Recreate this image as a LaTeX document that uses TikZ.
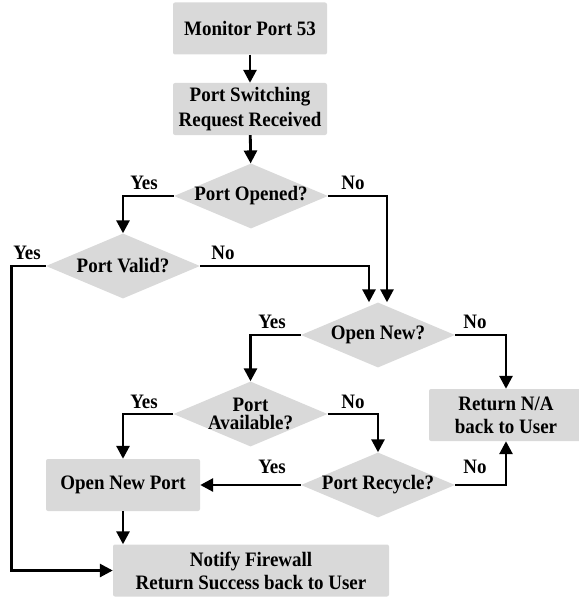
\documentclass[tikz,border=0pt]{standalone}
\usepackage{fontspec}
\setmainfont{Liberation Serif}[FakeStretch=0.925]
\usetikzlibrary{shapes.geometric,arrows.meta}
\definecolor{boxgray}{RGB}{217,217,217}

\tikzset{
    box/.style={rectangle, fill=boxgray, rounded corners=2pt, minimum width=154pt, minimum height=52pt, inner sep=0pt, align=center, font=\fontsize{20.5}{23}\selectfont\bfseries},
    decision/.style={diamond, fill=boxgray, minimum width=154pt, minimum height=65pt, inner sep=0pt},
    dtext/.style={align=center, inner sep=0pt, font=\fontsize{20.5}{18.5}\selectfont\bfseries},
    ans/.style={inner sep=0pt, font=\fontsize{20.5}{23}\selectfont\bfseries},
    flow/.style={line width=2.8pt, -{Triangle[length=13pt,width=13pt]}}
}

\begin{document}
\begin{tikzpicture}[x=1pt,y=-1pt]
        \useasboundingbox (0,0) rectangle (578,599);

        \node (mon) [box] at (250,28.5) {Monitor Port 53};
        \node (req) [box] at (250,109) {Port Switching\\[2pt]Request Received};
        \node (opened) [decision, label={[dtext]center:Port Opened?}] at (251,196) {};
        \node (valid) [decision, label={[dtext]center:Port Valid?}] at (123,266) {};
        \node (opennew) [decision, label={[dtext]center:Open New?}] at (378,335) {};
        \node (avail) [decision, label={[dtext]center:{Port\\Available?}}] at (250.5,414) {};
        \node (recycle) [decision, label={[dtext]center:Port Recycle?}] at (378,485) {};
        \node (retna) [box] at (506,415) {Return N/A\\back to User};
        \node (newport) [box] at (123,485) {Open New Port};
        \node (notify) [box, minimum width=276pt] at (251,570.5) {Notify Firewall\\Return Success back to User};

        \node (yesopened) [ans] at (144,183) {Yes};
        \node (noopened) [ans] at (353,183) {No};
        \node (yesvalid) [ans] at (27,253) {Yes};
        \node (novalid) [ans] at (223,253) {No};
        \node (yesnew) [ans] at (272,322) {Yes};
        \node (nonew) [ans] at (475,322) {No};
        \node (yesavail) [ans] at (144,402) {Yes};
        \node (noavail) [ans] at (353,402) {No};
        \node (yesrecycle) [ans] at (272,467) {Yes};
        \node (norecycle) [ans] at (475,467) {No};

        \draw[flow] (mon) -- (req);
        \draw[flow] (req) -- (opened);
        \draw[flow] (opened.west) -| (valid.north);
        \draw[flow] (opened.east) -| ([xshift=9pt]opennew.north);
        \draw[flow] (valid.east) -| ([xshift=-9pt]opennew.north);
        \draw[flow] (valid.west) -- ++(-34,0) |- (notify.west);
        \draw[flow] (opennew.west) -| (avail.north);
        \draw[flow] (opennew.east) -| (retna.north);
        \draw[flow] (avail.west) -| (newport.north);
        \draw[flow] (avail.east) -| (recycle.north);
        \draw[flow] (recycle.west) -- (newport.east);
        \draw[flow] (recycle.east) -| (retna.south);
        \draw[flow] (newport) -- (newport |- notify.north);
    \end{tikzpicture}
\end{document}
